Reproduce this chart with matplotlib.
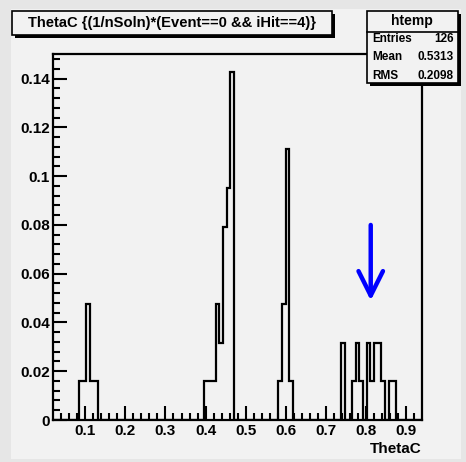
import numpy as np
import matplotlib
matplotlib.use('Agg')
import matplotlib.pyplot as plt
from matplotlib.patches import Rectangle

plt.rcParams['font.family'] = ['Liberation Sans', 'DejaVu Sans']
plt.rcParams['font.weight'] = 'bold'

# histogram binning (ROOT htemp, 100 bins)
x_min = 0.0202
x_max = 0.9399
n_bins = 100
unit = 1.0 / 63          # each entry weight

# occupied bins and their counts (in units of 1/63)
bin_index = [7, 8, 9, 10, 11,
             41, 42, 43, 44, 45, 46, 47, 48,
             61, 62, 63, 64,
             78, 81, 82, 83, 85, 86, 87, 88, 89, 91, 92]
bin_count = [1, 1, 3, 1, 1,
             1, 1, 1, 3, 2, 5, 6, 9,
             1, 3, 7, 1,
             2, 1, 2, 1, 2, 1, 2, 2, 1, 1, 1]

title = "ThetaC {(1/nSoln)*(Event==0 && iHit==4)}"
stats_name = "htemp"
stats_rows = [("Entries", "126"), ("Mean", "0.5313"), ("RMS", "0.2098")]
arrow_x, arrow_top, arrow_tip = 0.812, 0.080, 0.049

W, H = 466, 462
bg = '#f2f2f2'


def fx(px):
    return px / W


def fy(py):
    return 1 - py / H


fig = plt.figure(figsize=(W / 100, H / 100), dpi=100, facecolor='#e6e6e6')
# canvas inner area
fig.patches.append(Rectangle((fx(11), fy(459)), fx(461) - fx(11), fy(9) - fy(459),
                             transform=fig.transFigure, facecolor=bg, edgecolor='none', zorder=-1))

ax = fig.add_axes([fx(53.3), fy(420), fx(422) - fx(53.3), fy(54.3) - fy(420)])
ax.set_zorder(1)
ax.set_facecolor(bg)

edges = np.linspace(x_min, x_max, n_bins + 1)
values = np.zeros(n_bins)
values[bin_index] = np.array(bin_count) * unit
ax.stairs(values, edges, color='black', lw=1.6, baseline=0)

ax.set_xlim(x_min, x_max)
ax.set_ylim(0, 0.15)
ax.set_xticks(np.arange(0.1, 0.95, 0.1))
ax.set_xticklabels(['%g' % round(v, 1) for v in np.arange(0.1, 0.95, 0.1)])
ax.set_xticks(np.arange(0.04, 0.94, 0.02), minor=True)
ax.set_yticks(np.arange(0, 0.141, 0.02))
ax.set_yticklabels(['0'] + ['%g' % round(v, 2) for v in np.arange(0.02, 0.141, 0.02)])
ax.set_yticks(np.arange(0, 0.15, 0.004), minor=True)
ax.tick_params(which='both', direction='in', top=False, right=False, width=1.5,
               labelsize=11, colors='black')
ax.tick_params(which='major', length=10)
ax.tick_params(which='minor', length=5)
ax.tick_params(axis='y', pad=2.5)
ax.tick_params(axis='x', pad=3)
for lab in ax.get_xticklabels() + ax.get_yticklabels():
    lab.set_fontweight('bold')
for s in ax.spines.values():
    s.set_linewidth(1.6)

fig.text(fx(422), fy(449), 'ThetaC', ha='right', va='center', fontsize=11, fontweight='bold')

ax.annotate('', xy=(arrow_x, arrow_tip), xytext=(arrow_x, arrow_top),
            arrowprops=dict(arrowstyle='->', color='blue', lw=3.2, mutation_scale=44,
                            shrinkA=0, shrinkB=0))


def box(x0, y0, x1, y1):
    # shadow then box, in pixel coords
    fig.patches.append(Rectangle((fx(x0 + 3), fy(y1 + 3)), fx(x1) - fx(x0), fy(y0) - fy(y1),
                                 transform=fig.transFigure, facecolor='black', edgecolor='none', zorder=5))
    fig.patches.append(Rectangle((fx(x0), fy(y1)), fx(x1) - fx(x0), fy(y0) - fy(y1),
                                 transform=fig.transFigure, facecolor=bg, edgecolor='black', lw=1.2, zorder=6))


box(12, 11, 332, 35)
fig.text(fx(172), fy(23), title, ha='center', va='center', fontsize=10.6, fontweight='bold', zorder=7)

box(367, 11, 458, 83)
fig.add_artist(plt.Line2D([fx(367), fx(458)], [fy(31.5), fy(31.5)], color='black', lw=1.2, zorder=7))
fig.text(fx(412), fy(21), stats_name, ha='center', va='center', fontsize=10, fontweight='bold', zorder=7)
for i, (k, v) in enumerate(stats_rows):
    yy = fy(38.5 + i * 18.7)
    fig.text(fx(372), yy, k, ha='left', va='center', fontsize=8.5, fontweight='bold', zorder=7)
    fig.text(fx(453.5), yy, v, ha='right', va='center', fontsize=8.5, fontweight='bold', zorder=7)

fig.savefig('out.png', dpi=100, facecolor=fig.get_facecolor())
